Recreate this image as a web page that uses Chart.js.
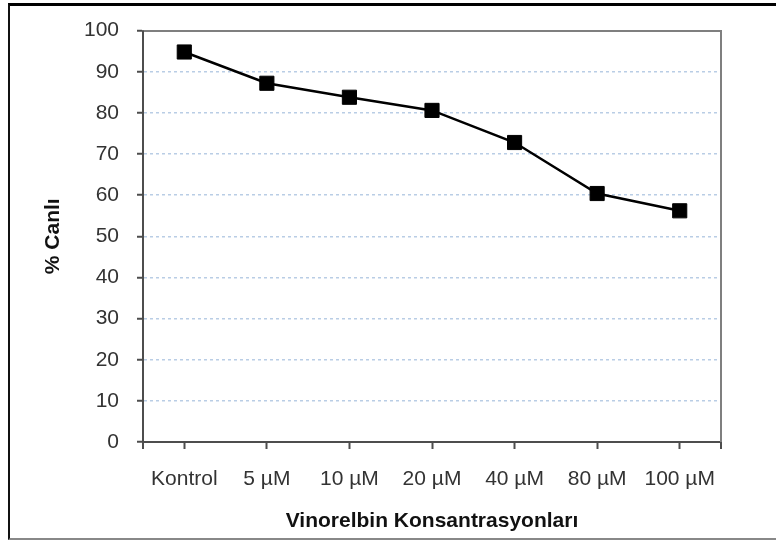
<!DOCTYPE html>
<html>
<head>
<meta charset="utf-8">
<script src="https://cdn.jsdelivr.net/npm/chart.js@4"></script>
<style>
  html, body { margin: 0; padding: 0; background: #fff; overflow: hidden; }
  #wrap { position: relative; width: 776px; height: 540px; }
  #frame {
    position: absolute; left: 8px; top: 3px; width: 800px; height: 532px;
    border-top: 3px solid #000; border-left: 2px solid #111; border-bottom: 2px solid #888;
    pointer-events: none;
  }
</style>
</head>
<body>
<div id="wrap">
  <canvas id="chart" width="776" height="540"></canvas>
  <div id="frame"></div>
</div>
<script>
// Data
const concentrations = ['Kontrol', '5 µM', '10 µM', '20 µM', '40 µM', '80 µM', '100 µM'];
const viability = [94.8, 87.2, 83.8, 80.6, 72.8, 60.4, 56.2];
const yTicks = [0, 10, 20, 30, 40, 50, 60, 70, 80, 90, 100];

const axisColor = '#4d4d4d';
const frameColor = '#7f7f7f';
const gridBlue = '#b9cde5';
const fontFamily = 'Arial, "Liberation Sans", sans-serif';

// little ticks at both ends of the category axis, plus a solid left axis line
const edgeTicks = {
  id: 'edgeTicks',
  afterDraw(chart) {
    const ctx = chart.ctx;
    const a = chart.chartArea;
    ctx.save();
    ctx.strokeStyle = axisColor;
    ctx.lineWidth = 2;
    ctx.setLineDash([]);
    ctx.beginPath();
    ctx.moveTo(a.left, a.top);
    ctx.lineTo(a.left, a.bottom + 7);
    ctx.moveTo(a.right, a.bottom);
    ctx.lineTo(a.right, a.bottom + 7);
    ctx.stroke();
    ctx.restore();
  }
};

const ctx = document.getElementById('chart').getContext('2d');
new Chart(ctx, {
  type: 'line',
  data: {
    labels: concentrations,
    datasets: [{
      data: viability,
      borderColor: '#000',
      borderWidth: 2.5,
      backgroundColor: '#000',
      pointStyle: 'rect',
      pointRadius: 10,
      pointHoverRadius: 10,
      pointBorderWidth: 1,
      tension: 0,
      fill: false
    }]
  },
  options: {
    responsive: false,
    animation: false,
    layout: { padding: { left: 41, top: 22, right: 0, bottom: 2 } },
    plugins: {
      legend: { display: false },
      tooltip: { enabled: false }
    },
    scales: {
      x: {
        offset: true,
        afterFit: s => { s.height = 96; },
        grid: {
          offset: false,
          drawOnChartArea: false,
          drawTicks: true,
          tickLength: 7,
          tickColor: axisColor,
          tickWidth: 2
        },
        border: { color: axisColor, width: 2 },
        ticks: {
          color: '#333',
          font: { family: fontFamily, size: 21 },
          padding: 18,
          maxRotation: 0,
          autoSkip: false
        },
        title: {
          display: true,
          text: 'Vinorelbin Konsantrasyonları',
          color: '#111',
          font: { family: fontFamily, size: 21, weight: 'bold' },
          padding: { top: 0, bottom: 4 }
        }
      },
      y: {
        min: 0,
        max: 100,
        afterFit: s => { s.width = 102; },
        afterBuildTicks: s => { s.ticks = yTicks.map(v => ({ value: v })); },
        grid: {
          color: c => (c.tick && c.tick.value > 0 && c.tick.value < 100) ? gridBlue : 'rgba(0,0,0,0)',
          lineWidth: 1.5,
          drawTicks: true,
          tickLength: 6,
          tickColor: axisColor,
          tickWidth: 2,
          tickBorderDash: []
        },
        border: { color: axisColor, width: 2, dash: [3, 3] },
        ticks: {
          color: '#333',
          font: { family: fontFamily, size: 21 },
          padding: 18
        },
        title: {
          display: true,
          text: '% Canlı',
          color: '#111',
          font: { family: fontFamily, size: 21, weight: 'bold' },
          padding: { top: 0, bottom: 0 }
        }
      },
      xTop: {
        type: 'category',
        position: 'top',
        afterFit: s => { s.height = 0; },
        grid: { display: false, drawTicks: false },
        border: { color: frameColor, width: 2 },
        ticks: { display: false }
      },
      yRight: {
        position: 'right',
        min: 0,
        max: 100,
        afterFit: s => { s.width = 55; },
        grid: { display: false, drawTicks: false },
        border: { color: frameColor, width: 2 },
        ticks: { display: false }
      }
    }
  },
  plugins: [edgeTicks]
});
</script>
</body>
</html>
